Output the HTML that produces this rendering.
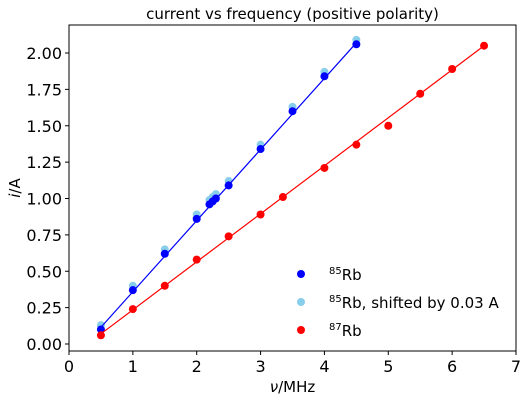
<!DOCTYPE html>
<html><head><meta charset="utf-8">
<style>
body{margin:0;background:#fff;}
svg{display:block;font-family:"DejaVu Sans","Liberation Sans",sans-serif;}
</style></head>
<body>
<svg id="chart" width="526" height="401"></svg>
<script>
const xTicks=[0,1,2,3,4,5,6,7];
const yTicks=[0,0.25,0.5,0.75,1.0,1.25,1.5,1.75,2.0];
const yTickLabels=["0.00","0.25","0.50","0.75","1.00","1.25","1.50","1.75","2.00"];
const rb85X=[0.5,1,1.5,2,2.2,2.25,2.3,2.5,3,3.5,4,4.5];
const rb85Y=[0.10,0.37,0.62,0.86,0.96,0.98,1.00,1.09,1.34,1.60,1.84,2.06];
const shift=0.03;
const rb87X=[0.5,1,1.5,2,2.5,3,3.35,4,4.5,5,5.5,6,6.5];
const rb87Y=[0.06,0.24,0.40,0.58,0.74,0.89,1.01,1.21,1.37,1.50,1.72,1.89,2.05];
const fit85X=[0.5,4.5], fit85Y=[0.115,2.07];
const fit87X=[0.5,6.5], fit87Y=[0.07,2.05];

const L=69,R=516,T=25,B=351;
const xs=v=>L+v*(R-L)/7;
const ys=v=>344-v*145.5;
const NS="http://www.w3.org/2000/svg";
const svg=document.getElementById('chart');
function mk(tag,attrs,parent){const e=document.createElementNS(NS,tag);for(const k in attrs)e.setAttribute(k,attrs[k]);(parent||svg).appendChild(e);return e;}

const title=mk('text',{x:(L+R)/2,y:19,'text-anchor':'middle','font-size':15,fill:'#000'});


title.textContent='current vs frequency (positive polarity)';

xTicks.forEach(t=>{
  const l=mk('line',{x1:xs(t),x2:xs(t),y1:B,y2:B+4,stroke:'#000'});
  
  
  const tx=mk('text',{x:xs(t),y:B+21,'text-anchor':'middle','font-size':16});
  
  
  tx.textContent=t;
});
yTicks.forEach((t,i)=>{
  const l=mk('line',{x1:L-4,x2:L,y1:ys(t),y2:ys(t),stroke:'#000'});
  
  
  const tx=mk('text',{x:L-7,y:ys(t)+6,'text-anchor':'end','font-size':16});
  
  
  tx.textContent=yTickLabels[i];
});
const xl=mk('text',{x:(L+R)/2,y:392,'text-anchor':'middle','font-size':15});


xl.innerHTML='<tspan font-style="italic">ν</tspan>/MHz';
const yl=mk('text',{x:0,y:0,'text-anchor':'middle','font-size':15,transform:'translate(20,188) rotate(-90)'});


yl.innerHTML='<tspan font-style="italic">i</tspan>/A';

function line(X,Y,c,name){
  const l=mk('line',{x1:xs(X[0]),y1:ys(Y[0]),x2:xs(X[1]),y2:ys(Y[1]),stroke:c,'stroke-width':1.2});
  
  
}
function pts(X,Y,c,off,name){
  X.forEach((x,i)=>{
    const p=mk('circle',{cx:xs(x),cy:ys(Y[i]+off),r:4,fill:c});
    
    
  });
}
pts(rb85X,rb85Y,'#87ceeb',shift,'rb85-shifted-point');
pts(rb85X,rb85Y,'#0000ff',0,'rb85-point');
line(fit85X,fit85Y,'#0000ff','rb85-fit-line');
pts(rb87X,rb87Y,'#ff0000',0,'rb87-point');
line(fit87X,fit87Y,'#ff0000','rb87-fit-line');

const fr=mk('rect',{x:L,y:T,width:R-L,height:B-T,fill:'none',stroke:'#000','stroke-width':1});



const leg=[['#0000ff','85','Rb'],['#87ceeb','85','Rb, shifted by 0.03 A'],['#ff0000','87','Rb']];
leg.forEach((e,i)=>{
  const y=274+i*28;
  const g=mk('g',{});
  
  
  mk('circle',{cx:301,cy:y,r:4,fill:e[0]},g);
  const t=mk('text',{x:329,y:y+6,'font-size':15},g);
  t.innerHTML='<tspan font-size="10" dy="-6">'+e[1]+'</tspan><tspan dy="6">'+e[2]+'</tspan>';
});
</script>
</body></html>
